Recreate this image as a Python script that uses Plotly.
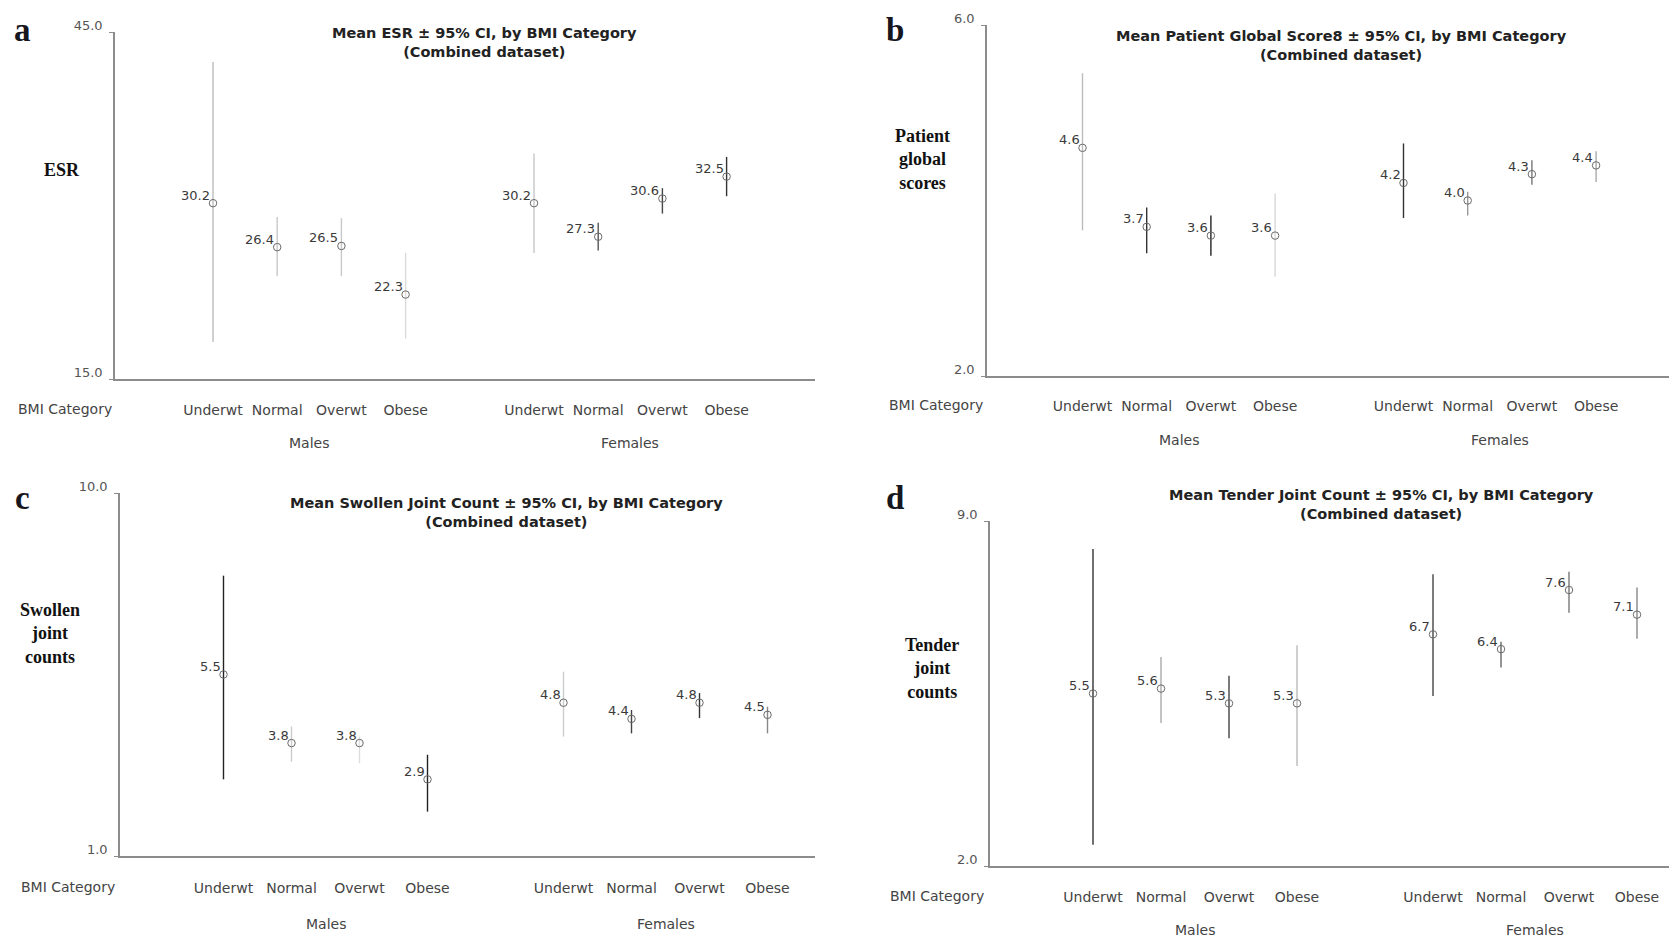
import plotly.graph_objects as go

W, H = 1669, 938

# ---- data -------------------------------------------------------------
categories = ["Underwt", "Normal", "Overwt", "Obese"]
groups = ["Males", "Females"]
slots = [0, 1, 2, 3, 5, 6, 7, 8]          # Males 0-3, Females 5-8

esr_mean = [30.2, 26.4, 26.5, 22.3, 30.2, 27.3, 30.6, 32.5]
esr_lo = [18.2, 23.9, 23.9, 18.5, 25.9, 26.1, 29.3, 30.8]
esr_hi = [42.4, 29.0, 28.9, 25.9, 34.5, 28.5, 31.5, 34.2]

pgs_mean = [4.6, 3.7, 3.6, 3.6, 4.2, 4.0, 4.3, 4.4]
pgs_lo = [3.66, 3.40, 3.37, 3.13, 3.80, 3.83, 4.18, 4.21]
pgs_hi = [5.45, 3.92, 3.83, 4.08, 4.65, 4.10, 4.46, 4.56]

sjc_mean = [5.5, 3.8, 3.8, 2.9, 4.8, 4.4, 4.8, 4.5]
sjc_lo = [2.90, 3.34, 3.30, 2.10, 3.96, 4.04, 4.42, 4.04]
sjc_hi = [7.95, 4.21, 3.96, 3.51, 5.57, 4.62, 5.04, 4.70]

tjc_mean = [5.5, 5.6, 5.3, 5.3, 6.7, 6.4, 7.6, 7.1]
tjc_lo = [2.43, 4.90, 4.59, 4.03, 5.45, 6.03, 7.14, 6.61]
tjc_hi = [8.43, 6.24, 5.86, 6.48, 7.92, 6.55, 7.97, 7.65]

# ---- styling / geometry (pixels) ---------------------------------------
SANS = "DejaVu Sans, Arial, sans-serif"
SERIF = "Liberation Serif, Times New Roman, serif"

panels = [
    dict(letter="a", mean=esr_mean, lo=esr_lo, hi=esr_hi, ymin=15.0, ymax=45.0,
         title="Mean ESR ± 95% CI, by BMI Category<br>(Combined dataset)",
         ylabel="ESR",
         ax_left=115, ax_right=815, p0=213, unit=64.2, y_top=32, y_bot=379,
         letter_xy=(22, 30), title_xy=(484, 43), ylabel_xy=(62, 170),
         tick_y=409, group_y=443, bmi_x=65,
         ci_colors=["#bcbcbc", "#c8c8c8", "#c8c8c8", "#dadada",
                    "#c8c8c8", "#555555", "#444444", "#333333"]),
    dict(letter="b", mean=pgs_mean, lo=pgs_lo, hi=pgs_hi, ymin=2.0, ymax=6.0,
         title="Mean Patient Global Score8 ± 95% CI, by BMI Category<br>(Combined dataset)",
         ylabel="Patient<br>global<br>scores",
         ax_left=987, ax_right=W, p0=1082.5, unit=64.2, y_top=25, y_bot=376,
         letter_xy=(895, 30), title_xy=(1341, 45), ylabel_xy=(922, 159),
         tick_y=405, group_y=440, bmi_x=936,
         ci_colors=["#bbbbbb", "#333333", "#222222", "#d8d8d8",
                    "#333333", "#999999", "#777777", "#aaaaaa"]),
    dict(letter="c", mean=sjc_mean, lo=sjc_lo, hi=sjc_hi, ymin=1.0, ymax=10.0,
         title="Mean Swollen Joint Count ± 95% CI, by BMI Category<br>(Combined dataset)",
         ylabel="Swollen<br>joint<br>counts",
         ax_left=120, ax_right=815, p0=223.5, unit=68.0, y_top=493, y_bot=856,
         letter_xy=(22, 498), title_xy=(506, 512), ylabel_xy=(50, 633),
         tick_y=887, group_y=924, bmi_x=68,
         ci_colors=["#222222", "#cccccc", "#dddddd", "#222222",
                    "#cccccc", "#444444", "#333333", "#888888"]),
    dict(letter="d", mean=tjc_mean, lo=tjc_lo, hi=tjc_hi, ymin=2.0, ymax=9.0,
         title="Mean Tender Joint Count ± 95% CI, by BMI Category<br>(Combined dataset)",
         ylabel="Tender<br>joint<br>counts",
         ax_left=990, ax_right=W, p0=1093, unit=68.0, y_top=521, y_bot=866,
         letter_xy=(895, 498), title_xy=(1381, 504), ylabel_xy=(932, 668),
         tick_y=896, group_y=930, bmi_x=937,
         ci_colors=["#333333", "#aaaaaa", "#444444", "#bbbbbb",
                    "#444444", "#666666", "#777777", "#888888"]),
]


def px_x(v):
    return v / W


def px_y(v):
    return 1 - v / H


fig = go.Figure()
annotations = []

for i, p in enumerate(panels, start=1):
    xa, ya = f"x{i}", f"y{i}"
    # one trace per category: open-circle mean with its own CI line
    for k, s in enumerate(slots):
        m, lo, hi = p["mean"][k], p["lo"][k], p["hi"][k]
        fig.add_trace(go.Scatter(
            x=[s], y=[m], xaxis=xa, yaxis=ya, mode="markers",
            marker=dict(symbol="circle-open", size=7.5, color="#6a6a6a",
                        line=dict(width=1)),
            error_y=dict(type="data", symmetric=False,
                         array=[hi - m], arrayminus=[m - lo],
                         color=p["ci_colors"][k], thickness=1.4, width=0),
            showlegend=False, hoverinfo="skip", cliponaxis=False,
        ))
        # mean value printed just up-left of its marker
        annotations.append(dict(
            text=f"{m:.1f}", xref=xa, yref=ya, x=s, y=m,
            xanchor="right", yanchor="middle", xshift=-1, yshift=8,
            showarrow=False,
            font=dict(family=SANS, size=13, color="#3a3a3a"),
        ))

    x_range = [(p["ax_left"] - p["p0"]) / p["unit"],
               (p["ax_right"] - p["p0"]) / p["unit"]]
    lab_std = p["tick_y"] - p["y_bot"] - 13

    fig.update_layout(**{
        f"xaxis{i}": dict(
            domain=[px_x(p["ax_left"]), px_x(p["ax_right"])],
            range=x_range, anchor=ya, showgrid=False, zeroline=False,
            automargin=False,
            showline=True, linecolor="#8c8c8c", linewidth=1.5,
            tickvals=slots, ticktext=categories * 2, ticks="",
            ticklabelstandoff=lab_std,
            tickfont=dict(family=SANS, size=14, color="#444444"),
        ),
        f"yaxis{i}": dict(
            domain=[px_y(p["y_bot"]), px_y(p["y_top"])],
            range=[p["ymin"], p["ymax"]], anchor=xa, showgrid=False,
            zeroline=False, automargin=False,
            showline=True, linecolor="#8c8c8c", linewidth=1.5,
            tickvals=[p["ymin"], p["ymax"]],
            ticktext=[f"{p['ymin']:.1f}", f"{p['ymax']:.1f}"],
            ticks="outside", ticklen=4, tickcolor="#8c8c8c",
            ticklabelshift=-7, ticklabelstandoff=4,
            tickfont=dict(family=SANS, size=13, color="#555555"),
        ),
    })

    # panel letter
    annotations.append(dict(
        text=f"<b>{p['letter']}</b>", xref="paper", yref="paper",
        x=px_x(p["letter_xy"][0]), y=px_y(p["letter_xy"][1]),
        showarrow=False, xanchor="center", yanchor="middle",
        font=dict(family=SERIF, size=33, color="#16161e"),
    ))
    # chart title
    annotations.append(dict(
        text=f"<b>{p['title']}</b>", xref="paper", yref="paper",
        x=px_x(p["title_xy"][0]), y=px_y(p["title_xy"][1]),
        showarrow=False, xanchor="center", yanchor="middle",
        font=dict(family=SANS, size=14.5, color="#222222"),
    ))
    # y-axis label
    annotations.append(dict(
        text=f"<b>{p['ylabel']}</b>", xref="paper", yref="paper",
        x=px_x(p["ylabel_xy"][0]), y=px_y(p["ylabel_xy"][1]),
        showarrow=False, xanchor="center", yanchor="middle",
        font=dict(family=SERIF, size=18, color="#111111"),
    ))
    # x-axis caption and sex groups
    annotations.append(dict(
        text="BMI Category", xref="paper", yref="paper",
        x=px_x(p["bmi_x"]), y=px_y(p["tick_y"]),
        showarrow=False, xanchor="center", yanchor="middle",
        font=dict(family=SANS, size=14, color="#444444"),
    ))
    for g, gname in enumerate(groups):
        gs = slots[g * 4:(g + 1) * 4]
        annotations.append(dict(
            text=gname, xref=xa, yref="paper",
            x=sum(gs) / len(gs), y=px_y(p["group_y"]),
            showarrow=False, xanchor="center", yanchor="middle",
            font=dict(family=SANS, size=14, color="#444444"),
        ))

fig.update_layout(
    width=W, height=H, autosize=False,
    margin=dict(l=0, r=0, t=0, b=0, pad=0, autoexpand=False),
    paper_bgcolor="white", plot_bgcolor="white",
    annotations=annotations, showlegend=False,
)

fig.write_html("out.html", config={"displayModeBar": False})
